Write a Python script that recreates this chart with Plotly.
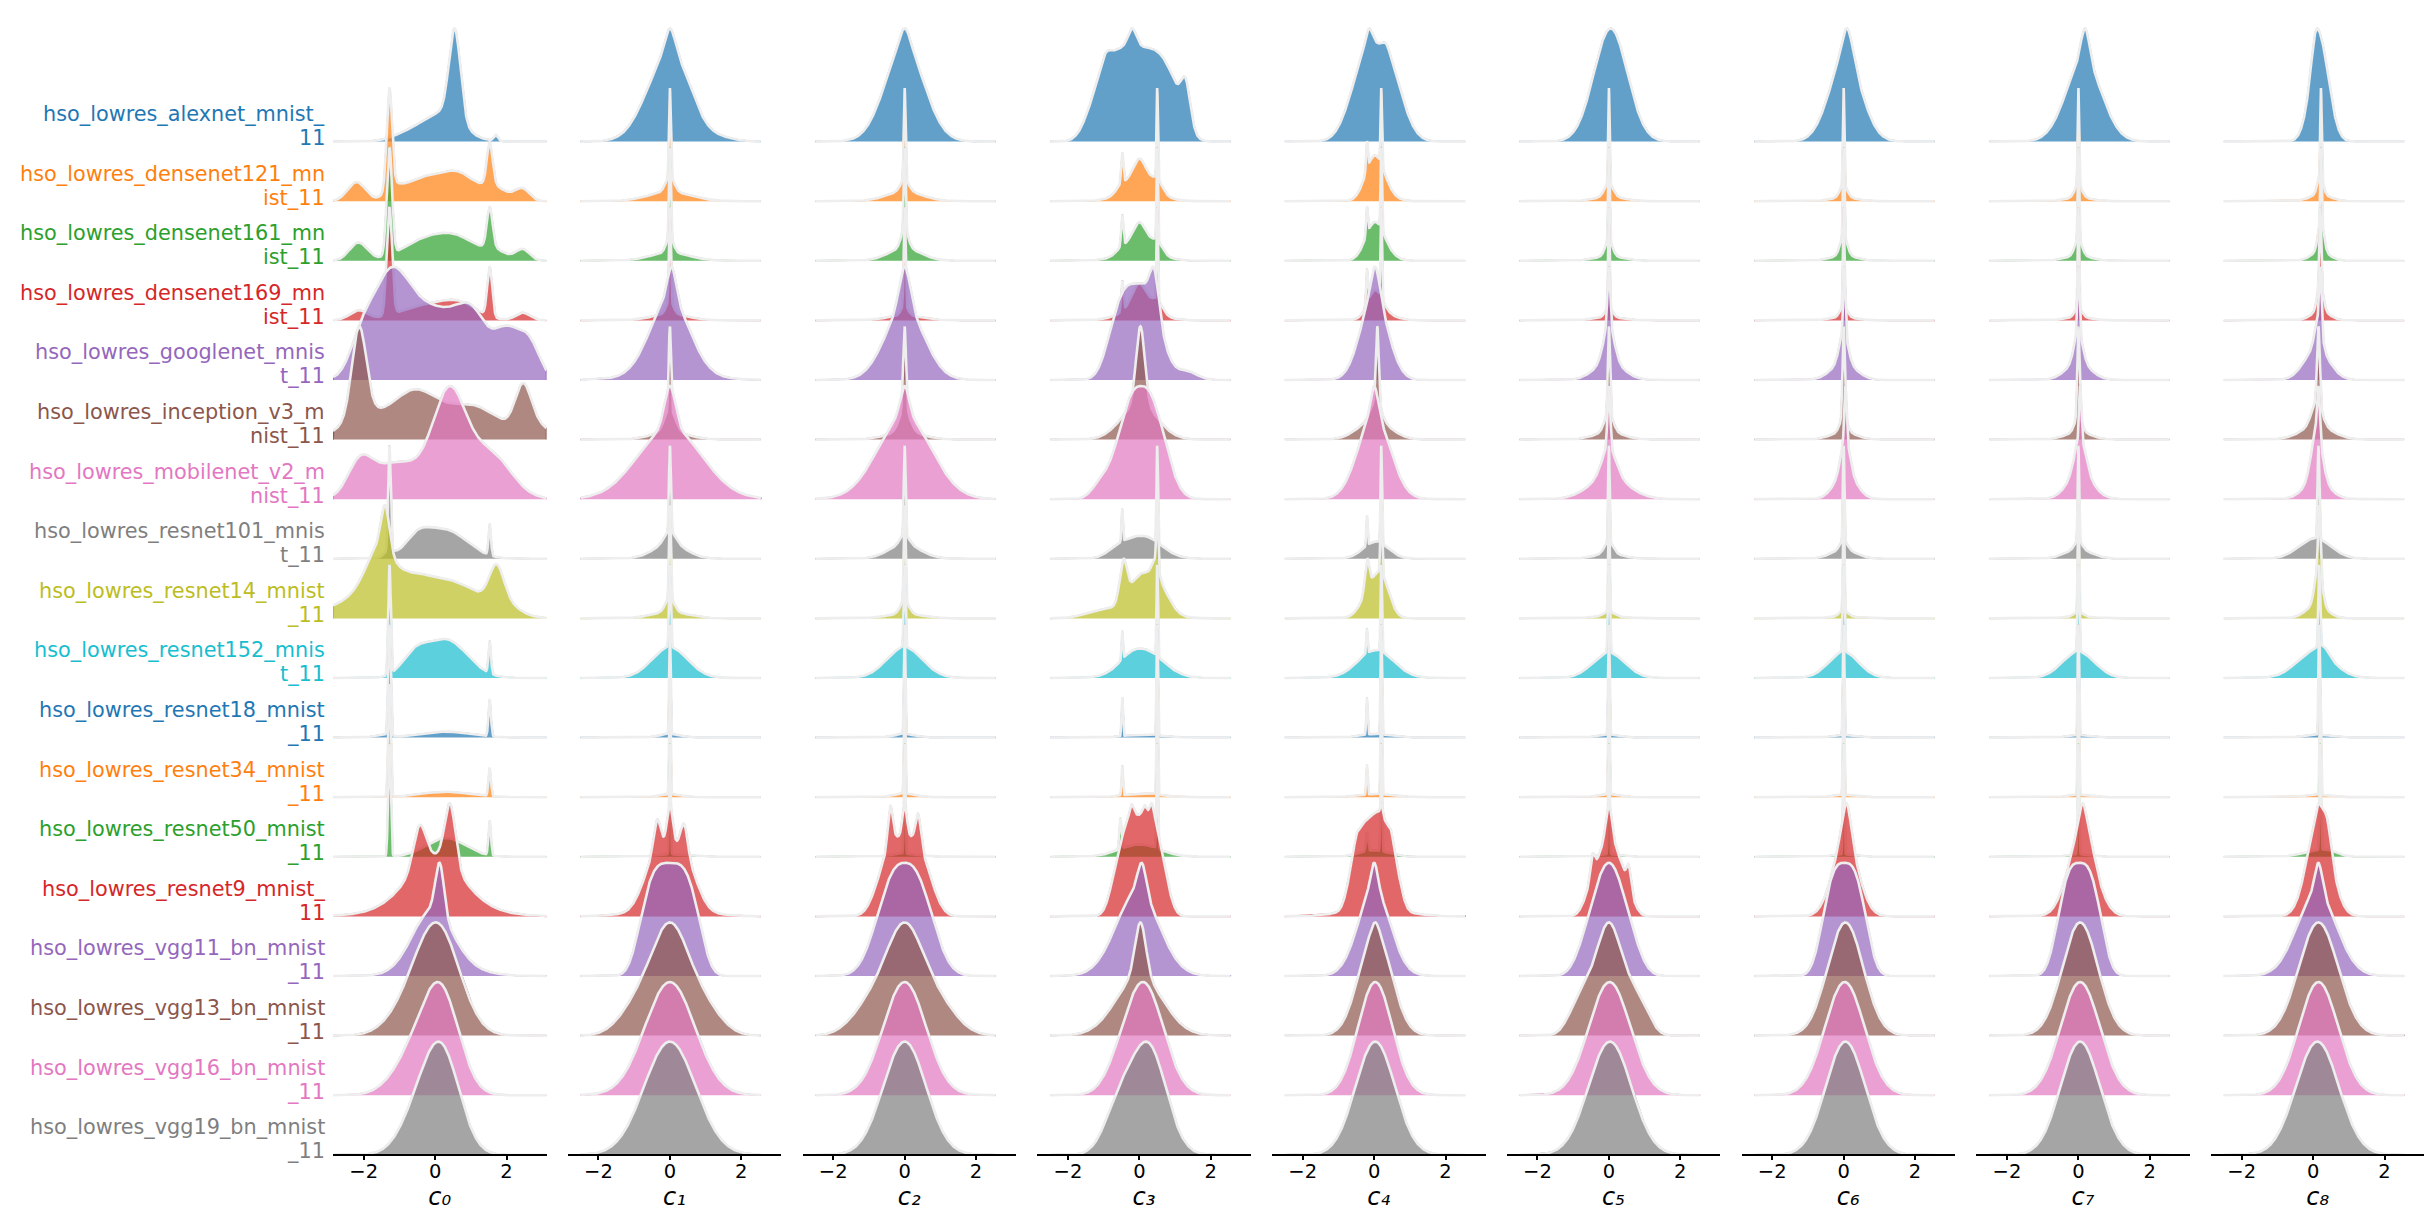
import numpy as np
import plotly.graph_objects as go

# ---------------- data ----------------
MODELS = [
    "hso_lowres_alexnet_mnist_11", "hso_lowres_densenet121_mnist_11",
    "hso_lowres_densenet161_mnist_11", "hso_lowres_densenet169_mnist_11",
    "hso_lowres_googlenet_mnist_11", "hso_lowres_inception_v3_mnist_11",
    "hso_lowres_mobilenet_v2_mnist_11", "hso_lowres_resnet101_mnist_11",
    "hso_lowres_resnet14_mnist_11", "hso_lowres_resnet152_mnist_11",
    "hso_lowres_resnet18_mnist_11", "hso_lowres_resnet34_mnist_11",
    "hso_lowres_resnet50_mnist_11", "hso_lowres_resnet9_mnist_11",
    "hso_lowres_vgg11_bn_mnist_11", "hso_lowres_vgg13_bn_mnist_11",
    "hso_lowres_vgg16_bn_mnist_11", "hso_lowres_vgg19_bn_mnist_11",
]
COLUMN_TITLES = ["c\u2080", "c\u2081", "c\u2082", "c\u2083", "c\u2084",
                 "c\u2085", "c\u2086", "c\u2087", "c\u2088"]
TICK_VALUES = [-2, 0, 2]
TICK_TEXT = ["\u22122", "0", "2"]
PALETTE = ["#1f77b4", "#ff7f0e", "#2ca02c", "#d62728", "#9467bd",
           "#8c564b", "#e377c2", "#7f7f7f", "#bcbd22", "#17becf"]

# density shapes: (centre, width, height[, shape exponent])
C0 = [
    [(0.55, 0.16, 1.45), (0.2, 0.55, 0.45), (1.7, 0.06, 0.1), (-0.8, 0.45, 0.1)],
    [(-2.2, 0.25, 0.3), (-1.28, 0.075, 1.55), (-1.2, 0.2, 0.15), (-0.5, 0.5, 0.3), (0.6, 0.55, 0.45),
     (1.53, 0.08, 0.65), (1.6, 0.25, 0.15), (2.45, 0.2, 0.18), (2.0, 0.3, 0.08)],
    [(-2.15, 0.25, 0.27), (-1.28, 0.075, 1.6), (-0.4, 0.6, 0.25), (0.6, 0.6, 0.33), (1.53, 0.08, 0.6),
     (1.7, 0.3, 0.12), (2.45, 0.2, 0.17)],
    [(-2.15, 0.25, 0.15), (-1.28, 0.075, 1.65), (-0.3, 0.7, 0.22), (0.7, 0.5, 0.22), (1.53, 0.07, 0.75),
     (2.45, 0.2, 0.12)],
    [(-1.3, 0.55, 1.6), (0.0, 0.8, 1.15), (1.1, 0.45, 0.8), (2.3, 0.55, 0.85, 3), (-2.1, 0.3, 0.4)],
    [(-2.13, 0.2, 1.3), (-2.0, 0.6, 0.35), (-0.6, 0.6, 0.65), (1.0, 0.8, 0.5), (2.46, 0.22, 0.6),
     (2.8, 0.4, 0.2)],
    [(0.42, 0.45, 1.55), (-2.1, 0.35, 0.6), (-1.1, 0.6, 0.6), (1.5, 0.6, 0.8), (0.0, 0.5, 0.3)],
    [(-1.28, 0.035, 1.85), (-1.3, 0.15, 0.1), (0.3, 0.6, 0.5), (-0.5, 0.35, 0.3), (1.53, 0.035, 0.55)],
    [(-1.4, 0.12, 0.75), (-1.6, 0.35, 0.55), (-0.8, 1.3, 0.75), (0.8, 0.6, 0.2), (1.72, 0.2, 0.55),
     (1.9, 0.4, 0.2)],
    [(-1.28, 0.035, 1.85), (0.3, 0.6, 0.65), (-0.6, 0.35, 0.3), (1.53, 0.035, 0.55)],
    [(-1.28, 0.035, 1.85), (0.3, 0.7, 0.1), (1.53, 0.035, 0.6), (-1.5, 0.2, 0.05)],
    [(-1.28, 0.035, 1.85), (0.3, 0.7, 0.09), (1.53, 0.035, 0.45)],
    [(-1.28, 0.035, 1.8), (0.3, 0.55, 0.3), (1.53, 0.035, 0.55)],
    [(-0.44, 0.17, 0.65), (0.42, 0.15, 1.0), (0.0, 0.7, 0.65), (0.0, 1.1, 0.35)],
    [(0.13, 0.12, 0.9), (-0.1, 0.55, 1.0), (0.3, 0.8, 0.2)],
    [(0.1, 0.6, 1.5), (-0.7, 0.6, 0.35)],
    [(0.2, 0.5, 1.5), (-0.5, 0.6, 0.75)],
    [(0.2, 0.5, 1.65), (-0.5, 0.5, 0.6)],
]
C1 = [
    [(-0.05, 0.6, 1.35), (0.0, 0.15, 0.45), (0.45, 0.25, 0.12), (1.5, 0.4, 0.04)],
    [(0, 0.025, 1.45), (0, 0.12, 0.25), (0, 0.6, 0.15)],
    [(0, 0.025, 1.45), (0, 0.1, 0.25), (0, 0.55, 0.13)],
    [(0, 0.025, 1.5), (0, 0.1, 0.2), (0, 0.5, 0.1)],
    [(0.05, 0.12, 0.55), (0.0, 0.55, 1.25), (0, 1.0, 0.1)],
    [(0, 0.03, 1.3), (0, 0.15, 0.35), (0, 0.5, 0.12)],
    [(0, 0.15, 0.7), (0, 0.9, 1.2)],
    [(0, 0.025, 1.4), (0, 0.15, 0.2), (0, 0.45, 0.25)],
    [(0, 0.025, 1.45), (0, 0.12, 0.22), (0, 0.5, 0.1)],
    [(0, 0.025, 1.35), (0, 0.5, 0.5)],
    [(0, 0.02, 1.85), (0, 0.3, 0.06)],
    [(0, 0.02, 1.85), (0, 0.3, 0.05)],
    [(0, 0.02, 1.85), (0, 0.4, 0.04)],
    [(-0.36, 0.1, 0.6), (0.0, 0.08, 0.8), (0.4, 0.1, 0.55), (0, 0.65, 1.2, 3), (0, 0.9, 0.15)],
    [(0, 0.75, 1.9, 3.5)],
    [(0, 0.45, 1.0), (0, 1.1, 0.95, 3)],
    [(0, 0.7, 1.9)],
    [(0, 0.72, 1.9)],
]
C2 = [
    [(0, 0.55, 1.6), (0, 0.15, 0.3)],
    [(0, 0.025, 1.45), (0, 0.12, 0.18), (0, 0.5, 0.15)],
    [(0, 0.025, 1.3), (0, 0.1, 0.3), (0, 0.45, 0.2)],
    [(0, 0.025, 1.5), (0, 0.1, 0.15), (0, 0.5, 0.07)],
    [(0, 0.15, 0.7), (0, 0.55, 1.2)],
    [(0, 0.04, 1.3), (0, 0.15, 0.35), (0, 0.5, 0.12)],
    [(0, 0.12, 0.5), (0, 0.75, 1.4)],
    [(0, 0.025, 1.4), (0, 0.13, 0.15), (0, 0.45, 0.22)],
    [(0, 0.025, 1.5), (0, 0.12, 0.2), (0, 0.5, 0.07)],
    [(0, 0.025, 1.35), (0, 0.5, 0.5)],
    [(0, 0.02, 1.85), (0, 0.3, 0.06)],
    [(0, 0.02, 1.85), (0, 0.3, 0.06)],
    [(0, 0.02, 1.85), (0, 0.4, 0.05)],
    [(-0.4, 0.07, 0.65), (0, 0.06, 0.55), (0.38, 0.07, 0.5), (0, 0.65, 1.35, 3)],
    [(0, 0.7, 1.9, 2.5)],
    [(0, 0.45, 1.0), (0, 1.15, 0.95, 3)],
    [(0, 0.6, 1.9)],
    [(0, 0.6, 1.9)],
]
C3 = [
    [(-0.1, 1.1, 1.5, 4), (-0.2, 0.12, 0.3), (1.3, 0.13, 0.6), (-0.95, 0.12, 0.15)],
    [(0.5, 0.02, 1.5), (-0.48, 0.03, 0.5), (0.0, 0.2, 0.45), (0.0, 0.5, 0.25), (0.5, 0.15, 0.2),
     (-0.5, 0.15, 0.12)],
    [(0.5, 0.02, 1.5), (-0.48, 0.03, 0.5), (0.0, 0.2, 0.4), (0.0, 0.5, 0.22), (0.5, 0.15, 0.18),
     (-0.5, 0.15, 0.08)],
    [(0.5, 0.02, 1.5), (-0.48, 0.03, 0.5), (0.0, 0.2, 0.4), (0, 0.5, 0.2), (0.5, 0.15, 0.2)],
    [(-0.1, 0.65, 1.6, 3), (0.42, 0.12, 0.6), (1.3, 0.3, 0.15)],
    [(0.03, 0.12, 1.3), (0, 0.5, 0.6)],
    [(0.05, 0.6, 1.85, 2.5), (-1.1, 0.25, 0.2)],
    [(0.5, 0.02, 1.5), (-0.48, 0.02, 0.5), (0.1, 0.5, 0.35), (-0.6, 0.3, 0.1)],
    [(0.5, 0.025, 1.0), (-0.45, 0.1, 0.65), (0.1, 0.35, 0.5), (0, 0.6, 0.25), (0.45, 0.1, 0.3),
     (0.65, 0.25, 0.25), (-1.2, 0.4, 0.1)],
    [(0.5, 0.02, 1.45), (-0.48, 0.02, 0.45), (0.1, 0.55, 0.45), (-0.3, 0.25, 0.05)],
    [(0.5, 0.02, 1.85), (-0.48, 0.02, 0.65), (0.1, 0.5, 0.05)],
    [(0.5, 0.02, 1.85), (-0.48, 0.02, 0.5), (0.1, 0.5, 0.06)],
    [(0.5, 0.02, 1.7), (-0.53, 0.03, 0.5), (0.0, 0.55, 0.2)],
    [(0.05, 0.6, 1.6, 3.5), (-0.22, 0.06, 0.2), (0.15, 0.06, 0.15), (0.35, 0.06, 0.25), (-0.7, 0.2, 0.2)],
    [(0.07, 0.12, 0.5), (-0.05, 0.6, 1.4)],
    [(0.03, 0.15, 0.9), (0, 0.65, 1.0)],
    [(0.12, 0.55, 1.9), (-0.6, 0.4, 0.15)],
    [(0.25, 0.5, 1.6), (-0.6, 0.4, 0.6)],
]
C4 = [
    [(0.05, 0.62, 1.6, 2.5), (-0.15, 0.1, 0.3), (0.35, 0.1, 0.12)],
    [(0.2, 0.02, 1.2), (-0.2, 0.025, 0.45), (0.0, 0.25, 0.6), (0.2, 0.3, 0.15)],
    [(0.2, 0.02, 1.3), (-0.2, 0.025, 0.45), (0.0, 0.25, 0.5), (0.2, 0.3, 0.15)],
    [(0.2, 0.02, 1.3), (-0.2, 0.025, 0.5), (0.02, 0.2, 0.35), (0.2, 0.35, 0.1)],
    [(0.03, 0.12, 0.5), (0, 0.38, 1.4)],
    [(0.09, 0.04, 1.2), (0.05, 0.15, 0.3), (0, 0.45, 0.3)],
    [(0, 0.1, 0.5), (0, 0.45, 1.4)],
    [(0.2, 0.02, 1.6), (-0.2, 0.02, 0.5), (0.05, 0.35, 0.28)],
    [(0.2, 0.025, 1.1), (-0.2, 0.06, 0.5), (0, 0.3, 0.55), (0.25, 0.2, 0.3)],
    [(0.2, 0.02, 1.4), (-0.2, 0.02, 0.4), (0.05, 0.5, 0.45)],
    [(0.2, 0.02, 1.85), (-0.2, 0.02, 0.62), (0.05, 0.4, 0.06)],
    [(0.2, 0.02, 1.85), (-0.2, 0.02, 0.5), (0.05, 0.5, 0.05)],
    [(0.2, 0.02, 1.7), (0, 0.4, 0.1), (-0.2, 0.03, 0.3)],
    [(0, 0.6, 1.6, 4), (0.2, 0.03, 0.2), (-0.5, 0.05, 0.1), (0.48, 0.05, 0.12), (0.1, 0.15, 0.15),
     (0, 0.8, 0.15)],
    [(0, 0.1, 0.45), (0, 0.45, 1.45)],
    [(0.03, 0.45, 1.75), (0.03, 0.1, 0.15)],
    [(0.03, 0.48, 1.9)],
    [(0.03, 0.55, 1.9)],
]
C5 = [
    [(0.05, 0.47, 1.9)],
    [(0, 0.02, 1.5), (0, 0.12, 0.2), (0, 0.4, 0.07)],
    [(0, 0.02, 1.45), (0, 0.1, 0.25), (0, 0.4, 0.07)],
    [(0, 0.02, 1.6), (0, 0.1, 0.15), (0, 0.4, 0.05)],
    [(0, 0.04, 1.0), (0, 0.15, 0.6), (0, 0.4, 0.3)],
    [(0, 0.03, 1.4), (0, 0.12, 0.3), (0, 0.4, 0.12)],
    [(0, 0.04, 1.0), (0, 0.2, 0.45), (0, 0.55, 0.35)],
    [(0, 0.02, 1.55), (0, 0.12, 0.2), (0, 0.4, 0.08)],
    [(0, 0.02, 1.8), (0, 0.15, 0.08), (0, 0.5, 0.03)],
    [(0, 0.025, 1.4), (0, 0.45, 0.4)],
    [(0, 0.02, 1.85), (0, 0.3, 0.05)],
    [(0, 0.02, 1.85), (0, 0.3, 0.05)],
    [(0, 0.02, 1.85), (0, 0.3, 0.04)],
    [(0, 0.08, 0.6), (0, 0.3, 0.75), (-0.46, 0.06, 0.35), (0.56, 0.06, 0.35), (0, 0.6, 0.55, 4)],
    [(0, 0.45, 1.5), (0, 0.8, 0.4, 4)],
    [(0, 0.3, 1.0), (0, 0.95, 0.95, 4)],
    [(0.02, 0.58, 1.9)],
    [(0.03, 0.6, 1.9)],
]
C6 = [
    [(0.1, 0.15, 0.5), (0.05, 0.45, 1.4)],
    [(0, 0.02, 1.55), (0, 0.1, 0.2), (0, 0.35, 0.06)],
    [(0, 0.02, 1.4), (0, 0.1, 0.3), (0, 0.35, 0.08)],
    [(0, 0.02, 1.6), (0, 0.1, 0.17), (0, 0.35, 0.05)],
    [(0.02, 0.03, 1.0), (0, 0.12, 0.45), (0, 0.35, 0.25)],
    [(0, 0.03, 1.45), (0, 0.1, 0.25), (0, 0.35, 0.12)],
    [(0.05, 0.03, 0.9), (0.05, 0.12, 0.6), (0.05, 0.3, 0.45)],
    [(0, 0.02, 1.55), (0, 0.1, 0.15), (0, 0.35, 0.15)],
    [(0, 0.02, 1.75), (0, 0.12, 0.1), (0, 0.4, 0.03)],
    [(0, 0.025, 1.4), (0, 0.42, 0.42)],
    [(0, 0.02, 1.85), (0, 0.3, 0.04)],
    [(0, 0.02, 1.85), (0, 0.3, 0.04)],
    [(0, 0.02, 1.85), (0, 0.3, 0.04)],
    [(0.08, 0.12, 0.6), (0.05, 0.35, 1.3)],
    [(0.02, 0.55, 1.9, 3)],
    [(0.05, 0.5, 1.9)],
    [(0.03, 0.55, 1.9)],
    [(0.05, 0.55, 1.9)],
]
C7 = [
    [(0.19, 0.12, 0.55), (0.15, 0.5, 1.35)],
    [(0, 0.02, 1.55), (0, 0.1, 0.2), (0, 0.35, 0.06)],
    [(0, 0.02, 1.45), (0, 0.1, 0.25), (0, 0.35, 0.08)],
    [(0, 0.02, 1.6), (0, 0.1, 0.15), (0, 0.35, 0.05)],
    [(0, 0.03, 1.0), (0, 0.12, 0.45), (0, 0.35, 0.25)],
    [(0, 0.03, 1.45), (0, 0.1, 0.25), (0, 0.35, 0.12)],
    [(0.05, 0.03, 0.9), (0.05, 0.15, 0.6), (0.05, 0.35, 0.45)],
    [(0, 0.02, 1.55), (0, 0.1, 0.15), (0, 0.38, 0.15)],
    [(0, 0.02, 1.8), (0, 0.12, 0.08), (0, 0.4, 0.03)],
    [(0, 0.025, 1.4), (0, 0.45, 0.42)],
    [(0, 0.02, 1.85), (0, 0.3, 0.04)],
    [(0, 0.02, 1.85), (0, 0.3, 0.04)],
    [(0, 0.02, 1.85), (0, 0.3, 0.04)],
    [(0.12, 0.12, 0.5), (0.1, 0.38, 1.35), (0.4, 0.1, 0.1)],
    [(0.03, 0.55, 1.9, 3)],
    [(0.05, 0.5, 1.9)],
    [(0.05, 0.55, 1.9)],
    [(0.05, 0.55, 1.9)],
]
C8 = [
    [(0.15, 0.25, 1.4), (0.05, 0.1, 0.3), (0.3, 0.25, 0.4)],
    [(0.22, 0.02, 1.4), (0.2, 0.08, 0.3), (0.2, 0.3, 0.1)],
    [(0.22, 0.02, 1.2), (0.22, 0.08, 0.5), (0.2, 0.25, 0.15)],
    [(0.2, 0.025, 1.2), (0.2, 0.08, 0.45), (0.2, 0.25, 0.15)],
    [(0.2, 0.03, 0.9), (0.15, 0.1, 0.5), (0.1, 0.35, 0.5)],
    [(0.15, 0.04, 1.2), (0.1, 0.15, 0.35), (0.1, 0.45, 0.2)],
    [(0.15, 0.04, 0.8), (0.1, 0.15, 0.8), (0.1, 0.35, 0.3)],
    [(0.15, 0.025, 1.5), (0.05, 0.45, 0.33)],
    [(0.17, 0.03, 1.0), (0.15, 0.1, 0.6), (0.1, 0.3, 0.2)],
    [(0.17, 0.025, 1.35), (0.05, 0.5, 0.45), (0.3, 0.15, 0.12)],
    [(0.17, 0.02, 1.85), (0.1, 0.35, 0.05)],
    [(0.2, 0.02, 1.85), (0.1, 0.35, 0.04)],
    [(0.2, 0.02, 1.8), (0.1, 0.4, 0.1), (0.5, 0.2, 0.05)],
    [(0.17, 0.33, 1.6), (0.4, 0.1, 0.3), (0.15, 0.08, 0.2)],
    [(0.15, 0.1, 0.5), (0.1, 0.55, 1.4)],
    [(0.15, 0.55, 1.9)],
    [(0.15, 0.55, 1.9)],
    [(0.12, 0.6, 1.9)],
]
COLUMNS = [C0, C1, C2, C3, C4, C5, C6, C7, C8]
COLUMN_SUPPORT = [(-2.86, 3.12), (-2.5, 2.55), (-2.5, 2.55), (-2.5, 2.55), (-2.5, 2.55),
                  (-2.5, 2.55), (-2.5, 2.55), (-2.5, 2.55), (-2.5, 2.55)]

# ---------------- layout constants (pixels) ----------------
W, H = 2432, 1223
ROW_PX = 59.6
TOP_BASE_PX = 133.6
COL_LEFT_PX = 325.0
COL_PITCH_PX = 234.75
COL_WIDTH_PX = 213.5
X_RANGE = [-2.86, 3.12]
PEAK = 1.9
LABEL_RIGHT_PX = 319.0
FONT = "DejaVu Sans"
OUTLINE = "rgb(238,238,238)"


def rgba(hex_color, a):
    h = hex_color.lstrip("#")
    return "rgba(%d,%d,%d,%.2f)" % (int(h[0:2], 16), int(h[2:4], 16), int(h[4:6], 16), a)


def density(x, comps):
    y = np.zeros_like(x)
    for comp in comps:
        mu, s, h = comp[:3]
        p = comp[3] if len(comp) > 3 else 2.0
        y += h * np.exp(-0.5 * np.abs((x - mu) / s) ** p)
    return y / y.max() * PEAK


n_rows = len(MODELS)
top_base = (H - TOP_BASE_PX) / ROW_PX

fig = go.Figure()
for r in range(n_rows):
    color = PALETTE[r % len(PALETTE)]
    base = top_base - r
    for c, col in enumerate(COLUMNS):
        lo, hi = COLUMN_SUPPORT[c]
        xs = np.linspace(lo, hi, 1000)
        ys = density(xs, col[r]) + base
        axis = "x" if c == 0 else "x%d" % (c + 1)
        fig.add_trace(go.Scatter(
            x=np.concatenate([[lo], xs, [hi]]), y=np.concatenate([[base], ys, [base]]),
            mode="lines", fill="toself", fillcolor=rgba(color, 0.7),
            line=dict(color=color, width=1.5), xaxis=axis, yaxis="y",
            hoverinfo="skip", showlegend=False))
        fig.add_trace(go.Scatter(
            x=xs, y=ys, mode="lines", line=dict(color=OUTLINE, width=2.6),
            xaxis=axis, yaxis="y", hoverinfo="skip", showlegend=False))

axis_pos = (H - (TOP_BASE_PX + (n_rows - 1) * ROW_PX)) / H
layout = dict(
    width=W, height=H, margin=dict(l=0, r=0, t=0, b=0),
    paper_bgcolor="white", plot_bgcolor="white",
    font=dict(family=FONT, color="black", size=21),
    yaxis=dict(domain=[0, 1], range=[0, H / ROW_PX], visible=False, fixedrange=True),
)
for c, title in enumerate(COLUMN_TITLES):
    left = COL_LEFT_PX + c * COL_PITCH_PX
    name = "xaxis" if c == 0 else "xaxis%d" % (c + 1)
    layout[name] = dict(
        domain=[left / W, (left + COL_WIDTH_PX) / W], range=X_RANGE,
        anchor="free", position=axis_pos,
        showline=True, linecolor="black", linewidth=1.6,
        ticks="outside", ticklen=4, tickwidth=1.6, tickcolor="black",
        tickvals=TICK_VALUES, ticktext=TICK_TEXT, ticklabelstandoff=-5,
        tickfont=dict(size=19.5, family=FONT, color="black"),
        showgrid=False, zeroline=False, layer="above traces",
        title=dict(text=title,
                   font=dict(size=24, family=FONT, color="black", style="italic"),
                   standoff=2),
    )
fig.update_layout(**layout)

annotations = []
for r, model in enumerate(MODELS):
    color = PALETTE[r % len(PALETTE)]
    base = top_base - r
    lines = [model[:25], model[25:]]
    offsets = [27.6, 3.6]
    for text, off in zip(lines, offsets):
        annotations.append(dict(
            text=text, xref="paper", yref="y", x=LABEL_RIGHT_PX / W, y=base + off / ROW_PX,
            xanchor="right", yanchor="middle", showarrow=False,
            font=dict(size=20.8, family=FONT, color=color)))
fig.update_layout(annotations=annotations)

fig.write_html("out.html")
